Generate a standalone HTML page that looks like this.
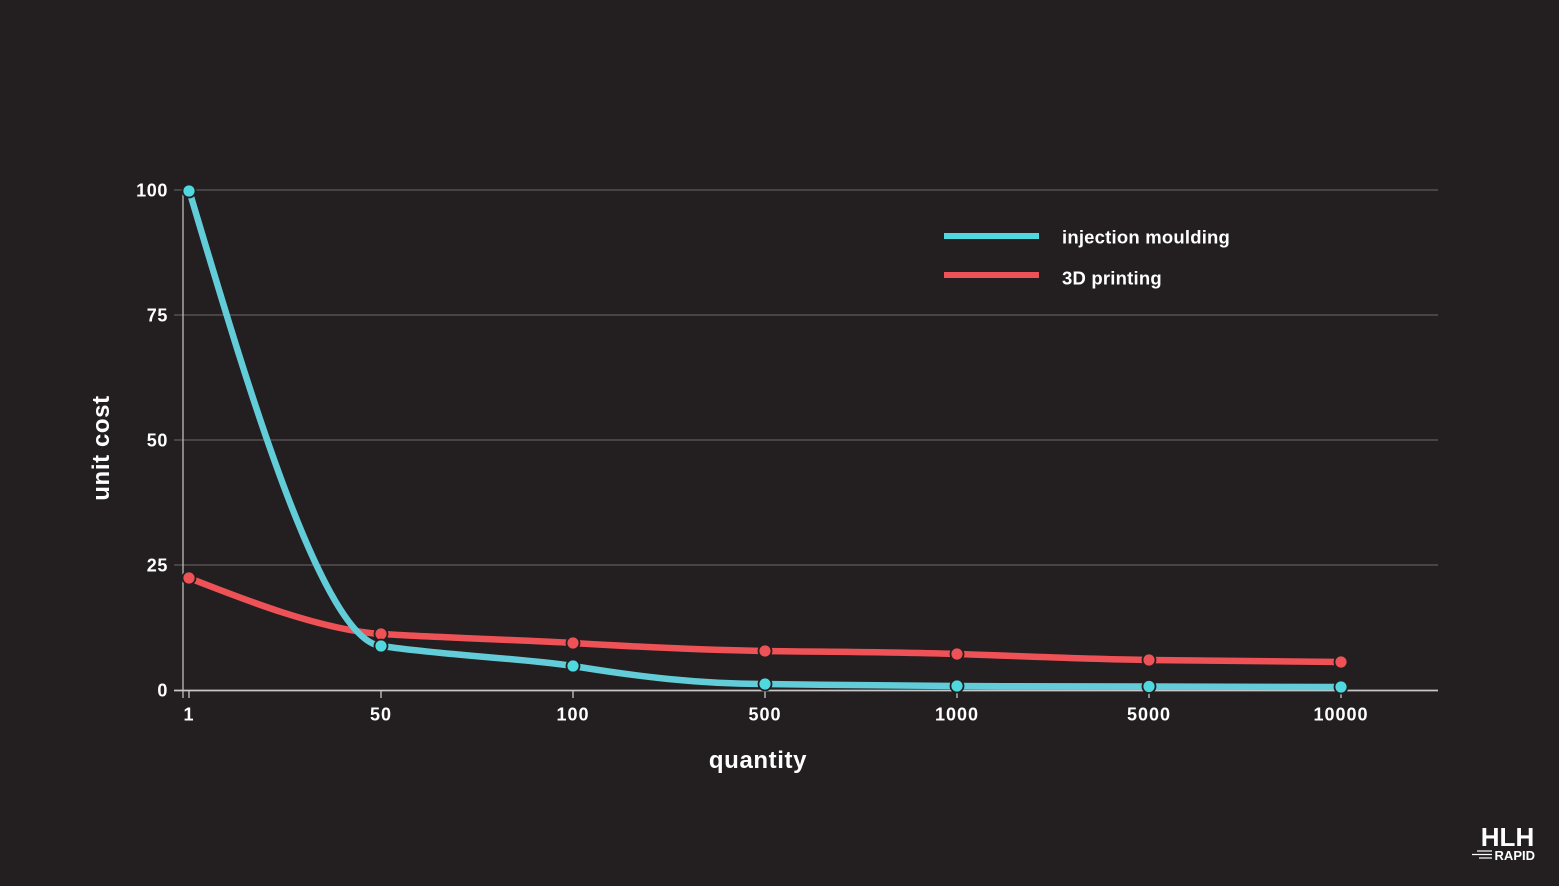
<!DOCTYPE html>
<html><head><meta charset="utf-8"><style>
html,body{margin:0;padding:0;background:#231f20;}
svg{display:block;}
text{font-family:"Liberation Sans",sans-serif;fill:#ffffff;}
</style></head><body>
<svg width="1559" height="886" viewBox="0 0 1559 886" xmlns="http://www.w3.org/2000/svg">
<rect width="1559" height="886" fill="#231f20"/>
<!-- grid -->
<g stroke="#5f5b5c" stroke-width="1.2">
<line x1="174" y1="190" x2="1438" y2="190"/>
<line x1="174" y1="315" x2="1438" y2="315"/>
<line x1="174" y1="440" x2="1438" y2="440"/>
<line x1="174" y1="565" x2="1438" y2="565"/>
</g>
<line x1="183" y1="190" x2="183" y2="698" stroke="#bdbbbb" stroke-width="1.3"/>
<line x1="174" y1="690.5" x2="1438" y2="690.5" stroke="#c8c6c6" stroke-width="1.8"/>
<g stroke="#c8c6c6" stroke-width="1.3">
<line x1="189" y1="690" x2="189" y2="698"/>
<line x1="381" y1="690" x2="381" y2="698"/>
<line x1="573" y1="690" x2="573" y2="698"/>
<line x1="765" y1="690" x2="765" y2="698"/>
<line x1="957" y1="690" x2="957" y2="698"/>
<line x1="1149" y1="690" x2="1149" y2="698"/>
<line x1="1341" y1="690" x2="1341" y2="698"/>
</g>
<!-- y labels -->
<g font-size="18" font-weight="bold" text-anchor="end" letter-spacing="0.6">
<text x="168" y="196.5">100</text>
<text x="168" y="321.5">75</text>
<text x="168" y="446.5">50</text>
<text x="168" y="571.5">25</text>
<text x="168" y="696.5">0</text>
</g>
<g font-size="18" font-weight="bold" text-anchor="middle" letter-spacing="1">
<text x="189" y="720.5">1</text>
<text x="381" y="720.5">50</text>
<text x="573" y="720.5">100</text>
<text x="765" y="720.5">500</text>
<text x="957" y="720.5">1000</text>
<text x="1149" y="720.5">5000</text>
<text x="1341" y="720.5">10000</text>
</g>
<text x="758" y="768" font-size="24" font-weight="bold" text-anchor="middle" letter-spacing="0.6">quantity</text>
<text transform="translate(109,448) rotate(-90)" font-size="24" font-weight="bold" text-anchor="middle" letter-spacing="0.6">unit cost</text>
<!-- red series -->
<path d="M189,578 C240,598 320,630 381,634 C450,638 520,640 573,643 C640,647 700,650 765,651 C830,652 900,652 957,654 C1020,656 1080,659 1149,660 C1220,661 1290,662 1341,662" fill="none" stroke="#ee5257" stroke-width="6.5" stroke-linecap="round"/>
<!-- cyan series -->
<path d="M189,190 C240,360 320,640 381,646 C450,656 520,658 573,666 C640,677 700,684 765,684 C830,685 900,686 957,686 C1020,686.5 1080,686.5 1149,686.5 C1220,686.7 1290,687 1341,687" fill="none" stroke="#62cdd8" stroke-width="6.5" stroke-linecap="round"/>
<g stroke="#231f20" stroke-width="1.8">
<g fill="#ee5257">
<circle cx="189" cy="578" r="6.5"/>
<circle cx="381" cy="634" r="6.5"/>
<circle cx="573" cy="643" r="6.5"/>
<circle cx="765" cy="651" r="6.5"/>
<circle cx="957" cy="654" r="6.5"/>
<circle cx="1149" cy="660" r="6.5"/>
<circle cx="1341" cy="662" r="6.5"/>
</g>
<g fill="#4fd8e0">
<circle cx="189" cy="191" r="6.5"/>
<circle cx="381" cy="646" r="6.5"/>
<circle cx="573" cy="666" r="6.5"/>
<circle cx="765" cy="684" r="6.5"/>
<circle cx="957" cy="686" r="6.5"/>
<circle cx="1149" cy="686.5" r="6.5"/>
<circle cx="1341" cy="687" r="6.5"/>
</g>
</g>
<!-- legend -->
<rect x="944" y="233" width="95" height="6" fill="#4fd8e0"/>
<rect x="944" y="272" width="95" height="6" fill="#ee5257"/>
<text x="1062" y="243.5" font-size="18.5" font-weight="bold" letter-spacing="0.2">injection moulding</text>
<text x="1062" y="284.5" font-size="18.5" font-weight="bold" letter-spacing="0.2">3D printing</text>
<!-- logo -->
<text x="1507.5" y="846" font-size="26" font-weight="bold" text-anchor="middle">HLH</text>
<text x="1535" y="860" font-size="13" font-weight="bold" text-anchor="end">RAPID</text>
<g stroke="#ffffff" stroke-width="1.2">
<line x1="1477" y1="851" x2="1492" y2="851"/>
<line x1="1472" y1="854.5" x2="1492" y2="854.5"/>
<line x1="1479" y1="858" x2="1492" y2="858"/>
</g>
</svg>
</body></html>
